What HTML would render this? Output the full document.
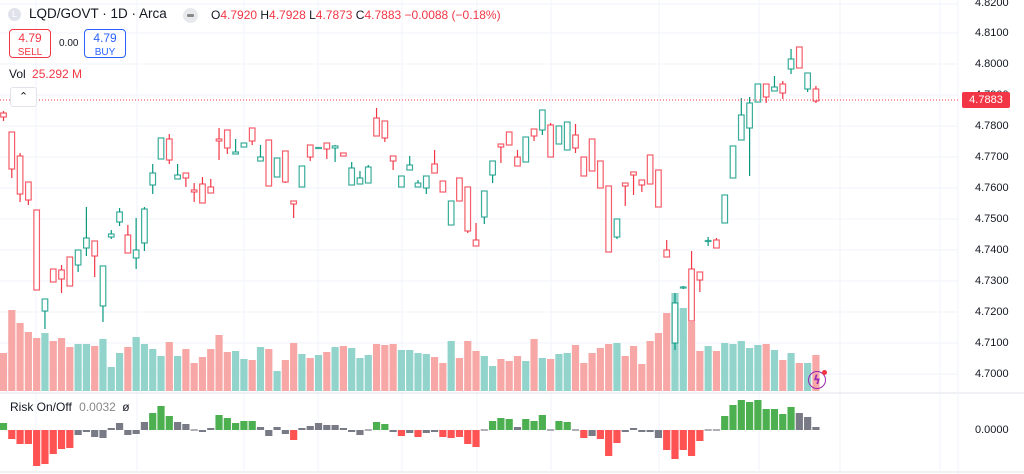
<!DOCTYPE html>
<html><head><meta charset="utf-8">
<style>
body{margin:0;width:1024px;height:474px;overflow:hidden;background:#fff;font-family:"Liberation Sans",sans-serif;position:relative}
.t{position:absolute;white-space:nowrap}
.ax{position:absolute;left:975px;font-size:11px;color:#131722}
</style></head><body>
<svg id="s" width="1024" height="474" style="position:absolute;left:0;top:0"></svg>

<div class="t" style="left:8px;top:8px;width:13px;height:13px;border-radius:50%;background:#e0e3eb;color:#fff;font-size:9px;text-align:center;line-height:13px">L</div>
<div class="t" style="left:29px;top:6px;font-size:13.5px;color:#131722">LQD/GOVT · 1D · Arca</div>
<div class="t" style="left:183px;top:8px;width:15px;height:15px;border-radius:50%;background:#e8e9ec"><div style="position:absolute;left:4px;top:6px;width:7px;height:3px;background:#888;border-radius:1px"></div></div>
<div class="t" style="left:211px;top:8px;font-size:12px;color:#131722">O<span style="color:#f23645">4.7920</span> H<span style="color:#f23645">4.7928</span> L<span style="color:#f23645">4.7873</span> C<span style="color:#f23645">4.7883 −0.0088 (−0.18%)</span></div>
<div class="t" style="left:9px;top:29px;width:42px;height:29px;border:1px solid #f23645;border-radius:4px;text-align:center;color:#f23645;font-size:12px;line-height:13px;padding-top:2px;box-sizing:border-box">4.79<br><span style="font-size:10px">SELL</span></div>
<div class="t" style="left:59px;top:38px;font-size:10px;color:#131722">0.00</div>
<div class="t" style="left:84px;top:29px;width:42px;height:29px;border:1px solid #2962ff;border-radius:4px;text-align:center;color:#2962ff;font-size:12px;line-height:13px;padding-top:2px;box-sizing:border-box">4.79<br><span style="font-size:10px">BUY</span></div>
<div class="t" style="left:9px;top:67px;font-size:12px;color:#131722">Vol <span style="color:#f23645;margin-left:3px">25.292 M</span></div>
<div class="t" style="left:10px;top:87px;width:25px;height:18px;border:1px solid #e0e3eb;border-radius:3px;background:#fff;text-align:center;font-size:11px;line-height:18px;color:#131722">⌃</div>
<div class="t" style="left:10px;top:400px;font-size:12px;color:#131722">Risk On/Off <span style="color:#888;margin-left:4px">0.0032</span> <span style="margin-left:3px">ø</span></div>

<div class="ax" style="top:-3px">4.8200</div>
<div class="ax" style="top:27px">4.8100</div>
<div class="ax" style="top:58px">4.8000</div>
<div class="ax" style="top:89px">4.7900</div>
<div class="ax" style="top:120px">4.7800</div>
<div class="ax" style="top:151px">4.7700</div>
<div class="ax" style="top:182px">4.7600</div>
<div class="ax" style="top:213px">4.7500</div>
<div class="ax" style="top:244px">4.7400</div>
<div class="ax" style="top:275px">4.7300</div>
<div class="ax" style="top:306px">4.7200</div>
<div class="ax" style="top:337px">4.7100</div>
<div class="ax" style="top:368px">4.7000</div>
<div class="ax" style="top:424px">0.0000</div>
<div class="t" style="left:962px;top:92px;width:48px;height:16px;background:#f23645;color:#fff;font-size:11px;line-height:16px;text-align:center;border-radius:2px">4.7883</div>
<div class="t" style="left:808px;top:371px;width:16px;height:16px;border:1.5px solid #9c27b0;border-radius:50%;color:#9c27b0;font-size:12px;font-weight:bold;text-align:center;line-height:16px;font-family:'DejaVu Sans',sans-serif">ϟ</div>
<div class="t" style="left:822px;top:370px;width:5px;height:5px;border-radius:50%;background:#f23645"></div>

<script>
var s=document.getElementById('s'),h='';
function X(i){return 3.5+8.29*i}
[4,33,64,95,126,157,188,219,250,281,312,343,374].forEach(function(y){h+='<line x1="0" x2="958" y1="'+y+'" y2="'+y+'" stroke="#f0f3fa"/>'});
[36,137,244,318,402,477,551,659,759,840,940].forEach(function(x){h+='<line x1="'+x+'" x2="'+x+'" y1="0" y2="471" stroke="#f0f3fa"/>'});
h+='<line x1="0" x2="1024" y1="393" y2="393" stroke="#e0e3eb"/><line x1="0" x2="1024" y1="472" y2="472" stroke="#e0e3eb"/><line x1="958" x2="958" y1="0" y2="474" stroke="#f0f3fa"/>';
var vol=[[353,'r'],[310,'r'],[323,'r'],[332,'r'],[338,'r'],[333,'g'],[341,'r'],[338,'r'],[347,'r'],[344,'g'],[344,'g'],[346,'r'],[339,'g'],[367,'g'],[353,'g'],[347,'r'],[337,'g'],[344,'g'],[349,'g'],[356,'g'],[342,'r'],[356,'g'],[349,'r'],[363,'r'],[357,'r'],[349,'r'],[335,'r'],[352,'r'],[351,'g'],[359,'g'],[360,'r'],[347,'g'],[349,'r'],[371,'g'],[360,'r'],[343,'r'],[354,'g'],[358,'r'],[355,'g'],[352,'r'],[347,'g'],[346,'r'],[348,'g'],[358,'g'],[355,'g'],[344,'r'],[345,'r'],[344,'r'],[350,'g'],[350,'g'],[353,'g'],[354,'g'],[357,'r'],[363,'r'],[341,'g'],[358,'r'],[341,'r'],[351,'r'],[356,'g'],[366,'g'],[359,'r'],[361,'r'],[356,'r'],[361,'g'],[339,'r'],[358,'g'],[359,'r'],[354,'g'],[353,'g'],[345,'r'],[363,'r'],[353,'r'],[348,'r'],[344,'r'],[343,'g'],[356,'r'],[346,'r'],[364,'r'],[341,'r'],[333,'r'],[313,'r'],[293,'g'],[308,'g'],[322,'r'],[351,'r'],[346,'g'],[351,'r'],[343,'g'],[344,'g'],[341,'g'],[348,'g'],[345,'g'],[344,'r'],[350,'g'],[360,'r'],[353,'g'],[363,'r'],[363,'g'],[355,'r']];
vol.forEach(function(v,i){var x=X(i);h+='<rect x="'+(x-3.6)+'" y="'+v[0]+'" width="7.2" height="'+(391-v[0])+'" fill="'+(v[1]=='r'?'#f7a8a6':'#92d3cc')+'"/>'});
var rk=[[423,'g'],[439,'r'],[444,'r'],[444,'r'],[466,'r'],[464,'r'],[454,'r'],[449,'r'],[448,'r'],[435,'k'],[432,'k'],[437,'k'],[438,'k'],[428,'k'],[423,'k'],[435,'k'],[434,'k'],[422,'k'],[413,'g'],[406,'g'],[416,'g'],[422,'k'],[424,'k'],[429,'k'],[432,'k'],[428,'k'],[415,'g'],[418,'g'],[423,'g'],[421,'g'],[421,'g'],[427,'k'],[436,'k'],[427,'k'],[434,'k'],[440,'r'],[428,'k'],[426,'k'],[423,'k'],[425,'k'],[425,'k'],[428,'k'],[432,'k'],[435,'k'],[431,'k'],[422,'g'],[424,'g'],[432,'k'],[436,'r'],[433,'k'],[437,'r'],[433,'k'],[432,'k'],[437,'r'],[438,'r'],[437,'r'],[444,'r'],[447,'r'],[429,'k'],[421,'g'],[418,'g'],[419,'g'],[427,'k'],[419,'g'],[421,'g'],[415,'g'],[431,'k'],[421,'g'],[422,'g'],[431,'k'],[438,'r'],[436,'k'],[439,'r'],[456,'r'],[443,'r'],[432,'k'],[428,'k'],[432,'k'],[432,'k'],[438,'k'],[450,'r'],[459,'r'],[450,'r'],[456,'r'],[441,'r'],[429,'k'],[431,'k'],[416,'g'],[405,'g'],[400,'g'],[402,'g'],[400,'g'],[409,'g'],[409,'g'],[414,'g'],[407,'g'],[413,'k'],[417,'k'],[427,'k']];
var Z=430,rc={g:'#4caf50',r:'#ff5252',k:'#787b86'};
rk.forEach(function(v,i){var x=X(i),y=v[0],a=Math.min(y,Z),b=Math.max(y,Z);if(b-a<1.2){a=Z-0.6;b=Z+0.6}h+='<rect x="'+(x-3.6)+'" y="'+a+'" width="7.2" height="'+(b-a)+'" fill="'+rc[v[1]]+'"/>'});
var cd=[['r',113,117,111,121],['r',132,169,132,178],['r',156,194,153,202],['r',182,200,182,205],['r',210,290],['g',299,311,299,329],['r',269,282],['r',270,279,265,293],['r',257,286],['g',250,265,250,272],['g',238,248,207,256],['r',241,256,241,277],['g',266,306,266,322],['g',234,237,230,239],['g',212,222,208,226],['r',235,253,225,253],['g',250,258,218,269],['g',209,243,207,251],['g',173,185,164,194],['g',138,159],['r',139,160,134,164],['g',175,179,164,179],['r',173,178,173,187],['r',190,192,183,202],['r',184,203,177,203],['r',187,193,179,193],['r',139,141,128,160],['r',130,148,130,154],['g',152,154,139,154],['g',143,147],['r',128,141,128,145],['g',157,161,145,161],['r',140,186],['g',158,177],['r',151,182,151,183],['r',201,204,201,218],['g',166,187],['r',145,157,145,161],['g',147.5,148.5],['r',143,149,143,159],['g',146,148,145,162],['r',153,156],['g',168,185,162,185],['g',178,184,171,184],['g',167,183,165,183],['r',118,136,108,136],['r',121,138,121,142],['r',156,161,156,170],['g',176,187],['g',165,170,156,170],['g',183,187,180,187],['g',176,188,176,194],['r',164,173,150,173],['r',181,192],['g',201,225],['r',178,201],['r',187,231,187,233],['r',240,246,223,246],['g',191,217,191,224],['g',161,175,161,183],['r',144,147,144,163],['r',132,145],['r',157,166,150,166],['g',137,162],['r',129,136,129,141],['g',110,130,110,135],['r',125,157,123,157],['g',126,144],['g',122,150],['r',135,148,124,153],['r',157,176],['r',139,171],['r',161,188],['r',186,252],['g',219,237,219,239],['r',183,186,183,206],['r',172,175,172,195],['r',180,185,180,192],['r',155,184],['r',170,207],['r',250,257,240,257],['g',303,343,293,350],['g',287,288,286,289],['r',269,321,251,321],['r',272,280,272,292],['g',240.5,241.5,237,246],['r',240,248,238,248],['g',195,223],['g',146,178],['g',115,140,98,140],['g',103,128,97,176],['g',84,102],['r',84,97,84,103],['g',87,91,76,91],['r',84,93,81,99],['g',59,69,49,74],['r',47,68],['g',73,89,73,92],['r',89,101,86,103]];
cd.forEach(function(c,i){var x=X(i),col=c[0]=='r'?'#f23645':'#089981',t=c[1],b=c[2],wt=c.length>3?c[3]:t,wb=c.length>3?c[4]:b;
h+='<line x1="'+x+'" x2="'+x+'" y1="'+wt+'" y2="'+wb+'" stroke="'+col+'" stroke-width="1.2"/>';
h+='<rect x="'+(x-2.8)+'" y="'+t+'" width="5.6" height="'+Math.max(b-t,1)+'" fill="#fff" stroke="'+col+'" stroke-width="1.2" stroke-opacity="0.8"/>';});
h+='<line x1="0" x2="958" y1="100" y2="100" stroke="#f23645" stroke-dasharray="1,2"/>';
s.innerHTML=h;
</script>
</body></html>
